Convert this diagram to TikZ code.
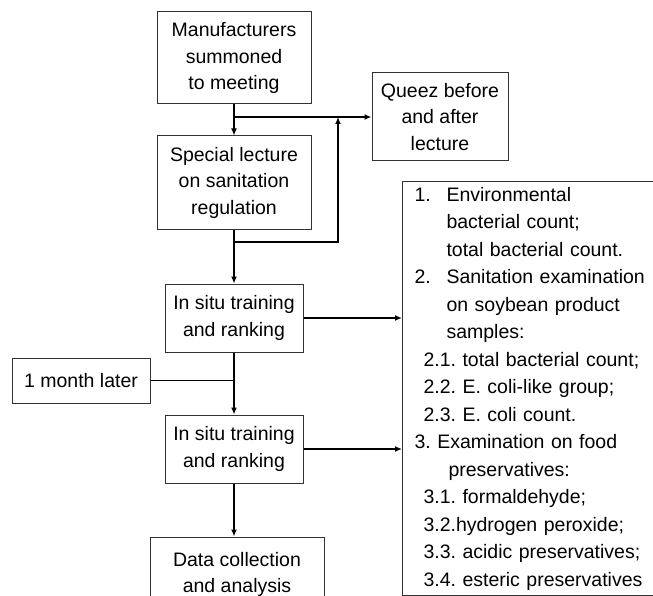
\documentclass[tikz,border=0pt]{standalone}
\usepackage{fontspec}
\setmainfont{Liberation Sans}
\frenchspacing
\usetikzlibrary{arrows.meta,positioning}
\tikzset{
  stage/.style={draw=black!80, line width=1pt, align=center, inner sep=2pt,
    font=\fontsize{19.5}{26.5}\selectfont},
  checklist/.style={stage, align=left, text width=300pt, inner xsep=12pt,
    minimum height=414pt, anchor=north west,
    font=\fontsize{19.5}{27.5}\selectfont},
  wire/.style={-{Latex[length=7pt,width=6pt]}, line width=1.3pt},
  joinwire/.style={line width=1.3pt}
}

\begin{document}
\begin{tikzpicture}[x=1pt, y=-1pt]
  \useasboundingbox (0,0) rectangle (653,596);
  \clip (0,0) rectangle (653,596);
  \node[stage, minimum width=154pt, minimum height=92pt] (summon) at (234,58) {Manufacturers\\summoned\\to meeting};
  \node[stage, minimum width=154pt, minimum height=93pt, below=31pt of summon] (lecture) {Special lecture\\on sanitation\\regulation};
  \node[stage, minimum width=138pt, minimum height=68pt, below=54pt of lecture] (train1) {In situ training\\and ranking};
  \node[stage, minimum width=138pt, minimum height=68pt, below=62pt of train1] (train2) {In situ training\\and ranking};
  \node[stage, minimum width=174pt, minimum height=75pt, below=53pt of train2, xshift=3pt] (data) {Data collection\\and analysis};
  \node[stage, minimum width=136pt, minimum height=88pt] (quiz) at (440,117) {Queez before\\and after\\lecture};
  \node[stage, minimum width=138pt, minimum height=45pt] (later) at (81,380.5) {1 month later};
  \node[checklist] (tests) at (402,181) {%
    \makebox[32pt][l]{1.}Environmental\\
    \hspace*{32pt}bacterial count;\\
    \hspace*{32pt}total bacterial count.\\
    \makebox[32pt][l]{2.}Sanitation examination\\
    \hspace*{32pt}on soybean product\\
    \hspace*{32pt}samples:\\
    \hspace*{9pt}2.1. total bacterial count;\\
    \hspace*{9pt}2.2. E. coli-like group;\\
    \hspace*{9pt}2.3. E. coli count.\\
    3. Examination on food\\
    \hspace*{34pt}preservatives:\\
    \hspace*{9pt}3.1. formaldehyde;\\
    \hspace*{9pt}3.2.hydrogen peroxide;\\
    \hspace*{9pt}3.3. acidic preservatives;\\
    \hspace*{9pt}3.4. esteric preservatives};
  \coordinate (loopback) at (338,242);
  \draw[wire] (summon) -- (lecture);
  \draw[wire] (summon.south |- quiz.west) -- (quiz.west);
  \draw[wire] (lecture.south |- loopback) -- (loopback) -- (loopback |- quiz.west);
  \draw[wire] (lecture) -- (train1);
  \draw[wire] (train1.east) -- (train1.east -| tests.west);
  \draw[joinwire] (later) -- (later -| train1.south);
  \draw[wire] (train1) -- (train2);
  \draw[wire] (train2.east) -- (train2.east -| tests.west);
  \draw[wire] (train2) -- (train2.south |- data.north);
\end{tikzpicture}
\end{document}
